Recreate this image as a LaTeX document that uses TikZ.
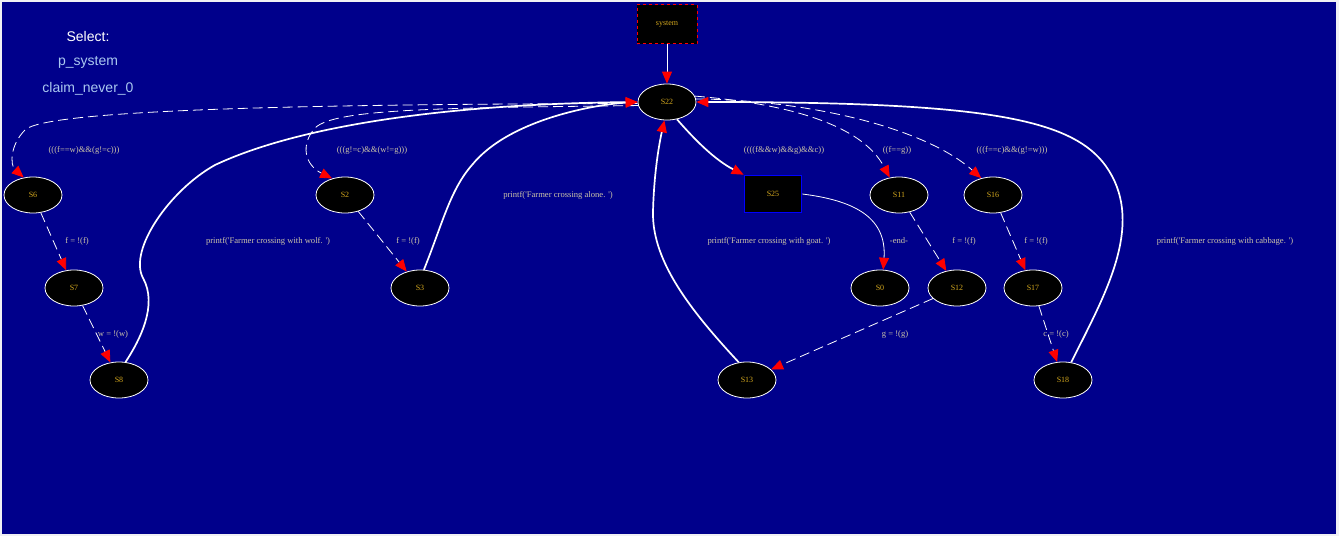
\documentclass[tikz,border=0pt]{standalone}
\usepackage{fontspec}
\setmainfont{Liberation Serif}
\newfontfamily\sansf{Liberation Sans}
\usetikzlibrary{arrows.meta,shapes.geometric}
\definecolor{bg}{RGB}{0,0,139}
\definecolor{frame}{RGB}{240,240,244}
\definecolor{nodetxt}{RGB}{212,168,30}
\definecolor{lbltxt}{RGB}{204,196,168}
\definecolor{lightblue}{RGB}{170,200,240}
\begin{document}
\begin{tikzpicture}[x=1pt,y=-1pt,
  st/.style={ellipse,draw=white,fill=black,line width=0.8pt,minimum width=58pt,minimum height=36pt,inner sep=0pt,text=nodetxt,font=\fontsize{8}{9}\selectfont},
  lbl/.style={text=lbltxt,font=\fontsize{8.6}{10}\selectfont,inner sep=1pt},
  tip/.style={-{Triangle[length=12pt,width=10pt,color=red]}},
  thin/.style={draw=white,line width=0.8pt,tip},
  dsh/.style={draw=white,line width=0.8pt,tip,dash pattern=on 10pt off 5pt},
  thk/.style={draw=white,line width=1.7pt,tip},
  side/.style={font=\sansf\fontsize{14}{16}\selectfont}]
\useasboundingbox (0,0) rectangle (1339,536);
\fill[frame] (0,0) rectangle (1339,536);
\fill[bg] (2,2) rectangle (1336,534);

\node[side,text=white] (sel) at (88,36) {Select:};
\node[side,text=lightblue] (psys) at (88,62) {p\_system};
\node[side,text=lightblue] (claim) at (88,89) {claim\_never\_0};

\node[draw=red,dashed,fill=black,minimum width=60pt,minimum height=39pt,inner sep=0pt,text=nodetxt,font=\fontsize{8}{9}\selectfont,line width=0.8pt] (system) at (667,24) {system};
\node[st] (S22) at (667,102) {S22};
\node[st] (S6) at (33,195) {S6};
\node[st] (S7) at (74,288) {S7};
\node[st] (S8) at (119,380) {S8};
\node[st] (S2) at (345,195) {S2};
\node[st] (S3) at (420,288) {S3};
\node[draw=blue,line width=1.6pt,fill=black,minimum width=57pt,minimum height=37pt,inner sep=0pt,text=nodetxt,font=\fontsize{8}{9}\selectfont] (S25) at (773,194) {S25};
\node[st] (S11) at (899,195) {S11};
\node[st] (S16) at (993,195) {S16};
\node[st] (S0) at (880,288) {S0};
\node[st] (S12) at (957,288) {S12};
\node[st] (S17) at (1033,288) {S17};
\node[st] (S13) at (747,380) {S13};
\node[st] (S18) at (1063,380) {S18};

% labels
\node[lbl] (l6) at (84,150) {(((f==w)\&\&(g!=c)))};
\node[lbl] (l67) at (77,241) {f = !(f)};
\node[lbl] (l78) at (113,334) {w = !(w)};
\node[lbl] (lwolf) at (268,241) {printf(\textquotesingle Farmer crossing with wolf. \textquotesingle)};
\node[lbl] (l2) at (372,150) {(((g!=c)\&\&(w!=g)))};
\node[lbl] (l23) at (408,241) {f = !(f)};
\node[lbl] (lalone) at (558,195) {printf(\textquotesingle Farmer crossing alone. \textquotesingle)};
\node[lbl] (l25) at (784,150) {((((f\&\&w)\&\&g)\&\&c))};
\node[lbl] (lgoat) at (769,241) {printf(\textquotesingle Farmer crossing with goat. \textquotesingle)};
\node[lbl] (lend) at (899,241) {-end-};
\node[lbl] (l11) at (897,150) {((f==g))};
\node[lbl] (l1112) at (964,241) {f = !(f)};
\node[lbl] (l1213) at (895,334) {g = !(g)};
\node[lbl] (l16) at (1012,150) {(((f==c)\&\&(g!=w)))};
\node[lbl] (l1617) at (1036,241) {f = !(f)};
\node[lbl] (l1718) at (1056,334) {c = !(c)};
\node[lbl] (lcab) at (1225,241) {printf(\textquotesingle Farmer crossing with cabbage. \textquotesingle)};

% edges
\draw[thin] (system) -- (S22);
\draw[dsh] (S22.183) .. controls (300,104) and (45,110) .. (25,130) .. controls (10,145) and (10,165) .. (S6.118);
\draw[dsh] (S6) -- (S7);
\draw[dsh] (S7) -- (S8);
\draw[thk] (S8.70) .. controls (140,340) and (158,305) .. (143,278) .. controls (128,250) and (170,190) .. (215,165) .. controls (300,125) and (450,104) .. (S22.west);
\draw[dsh] (S22.187) .. controls (450,108) and (335,108) .. (315,128) .. controls (300,145) and (305,165) .. (S2.128);
\draw[dsh] (S2) -- (S3);
\draw[thk] (S3.78) .. controls (442,225) and (450,190) .. (472,165) .. controls (510,118) and (600,104) .. (S22.west);
\draw[thk] (S22.300) .. controls (695,140) and (715,160) .. (S25.north west);
\draw[thin] (S25.east) .. controls (850,200) and (887,215) .. (S0.80);
\draw[thk] (S13.115) .. controls (692,312) and (652,262) .. (653,212) .. controls (654,170) and (660,140) .. (S22.262);
\draw[dsh] (S22.12) .. controls (790,104) and (862,125) .. (S11.118);
\draw[dsh] (S11) -- (S12);
\draw[dsh] (S12) -- (S13);
\draw[dsh] (S22.6) .. controls (810,100) and (925,128) .. (S16.125);
\draw[dsh] (S16) -- (S17);
\draw[dsh] (S17) -- (S18);
\draw[thk] (S18.65) .. controls (1102,300) and (1142,232) .. (1112,176) .. controls (1082,120) and (1000,102) .. (S22.east);
\end{tikzpicture}
\end{document}
